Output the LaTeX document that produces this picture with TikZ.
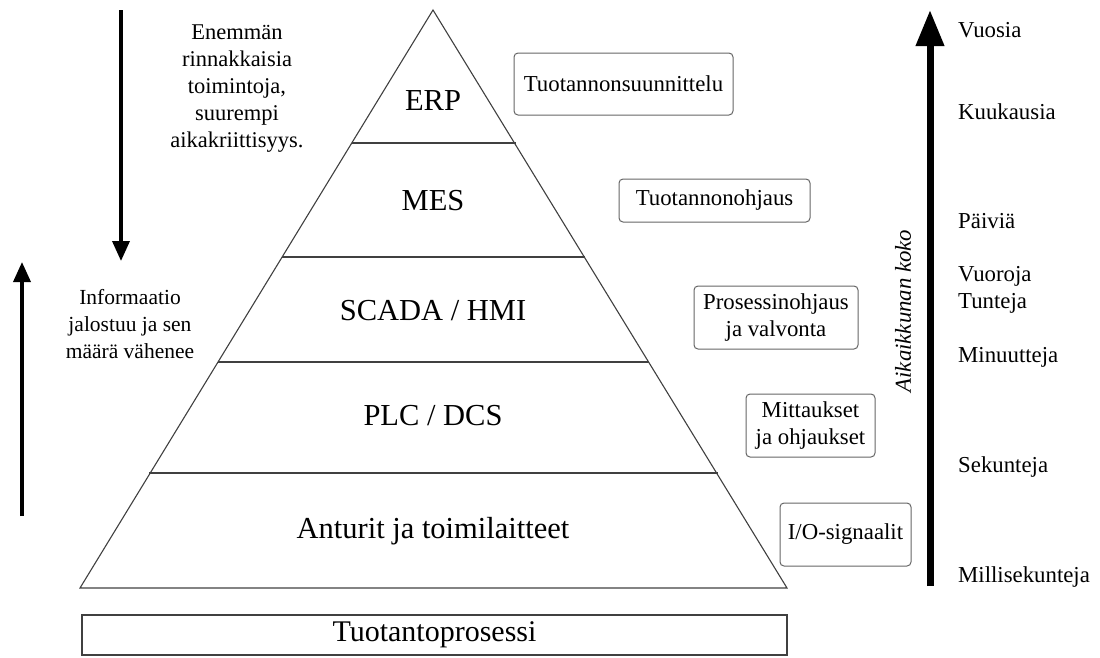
\documentclass[tikz,border=0pt]{standalone}
\usepackage{fontspec}
\setmainfont{Liberation Serif}
\usetikzlibrary{arrows.meta}
\begin{document}
\begin{tikzpicture}[x=1pt,y=-1pt,
  layer/.style={draw=black!75,line width=1.1pt},
  lvl/.style={font=\fontsize{30.5}{34}\selectfont,inner sep=0pt},
  tag/.style={draw=black!60,line width=1pt,rounded corners=4pt,align=center,
    font=\fontsize{22.8}{27}\selectfont,inner sep=0pt},
  note/.style={align=center,font=\fontsize{22.5}{27}\selectfont,inner sep=0pt},
  scale lbl/.style={anchor=west,font=\fontsize{22.8}{27}\selectfont,inner sep=0pt},
  thin arrow/.style={line width=3.5pt,-{Triangle[length=20pt,width=17pt]}},
  big arrow/.style={line width=7pt,-{Triangle[length=36pt,width=27pt]}}]
\useasboundingbox (0,0) rectangle (1100,657);

% pyramid outline and layer separators
\coordinate (apex) at (433,10);
\coordinate (bl) at (80,588);
\coordinate (br) at (787,588);
\draw[layer] (bl) -- (apex) -- (br) -- cycle;
\draw[layer] (351.5,143) -- (515.5,143);
\draw[layer] (282,257) -- (585,257);
\draw[layer] (218,362) -- (649,362);
\draw[layer] (149,473) -- (718,473);

% layer names
\node[lvl] (erp) at (433,101) {ERP};
\node[lvl] (mes) at (433,201) {MES};
\node[lvl] (scada) at (433,311) {SCADA / HMI};
\node[lvl] (plc) at (433,416) {PLC / DCS};
\node[lvl] (field) at (433,531) {Anturit ja toimilaitteet};

% process box below the pyramid
\node[draw=black!75,line width=1.1pt,minimum width=705pt,minimum height=40pt,
  font=\fontsize{30}{34}\selectfont,inner sep=0pt] (proc) at (434.5,635) {Tuotantoprosessi};

% function boxes
\node[tag,minimum width=219pt,minimum height=62pt] (t1) at (623.5,84) {Tuotannonsuunnittelu};
\node[tag,minimum width=191pt,minimum height=43pt] (t2) at (714.5,200.5) {Tuotannonohjaus};
\node[tag,minimum width=164pt,minimum height=63pt] (t3) at (776,317.5) {Prosessinohjaus\\ja valvonta};
\node[tag,minimum width=129pt,minimum height=63pt] (t4) at (810.5,425.5) {Mittaukset\\ja ohjaukset};
\node[tag,minimum width=131pt,minimum height=63pt] (t5) at (845.5,534.5) {I/O-signaalit};

% left side notes and arrows
\coordinate (dtop) at (121,10);
\coordinate (dbot) at (121,261);
\draw[thin arrow] (dtop) -- (dbot);
\coordinate (ubot) at (22,516);
\coordinate (utop) at (22,262);
\draw[thin arrow] (ubot) -- (utop);
\node[note] (par) at (237,89) {Enemmän\\rinnakkaisia\\toimintoja,\\suurempi\\aikakriittisyys.};
\node[note,font=\fontsize{21.5}{27}\selectfont] (info) at (130,324) {Informaatio\\jalostuu ja sen\\määrä vähenee};

% time window scale
\coordinate (tbot) at (930,586);
\coordinate (ttop) at (930,10);
\draw[big arrow] (tbot) -- (ttop);
\node[rotate=90,font=\fontsize{22.8}{27}\selectfont\itshape,inner sep=0pt] (win) at (903,311) {Aikaikkunan koko};
\node[scale lbl] (s1) at (958,30) {Vuosia};
\node[scale lbl] (s2) at (958,112) {Kuukausia};
\node[scale lbl] (s3) at (958,221) {Päiviä};
\node[scale lbl] (s4) at (958,276) {Vuoroja};
\node[scale lbl] (s5) at (958,303) {Tunteja};
\node[scale lbl] (s6) at (958,357) {Minuutteja};
\node[scale lbl] (s7) at (958,467) {Sekunteja};
\node[scale lbl] (s8) at (958,577) {Millisekunteja};
\end{tikzpicture}
\end{document}
